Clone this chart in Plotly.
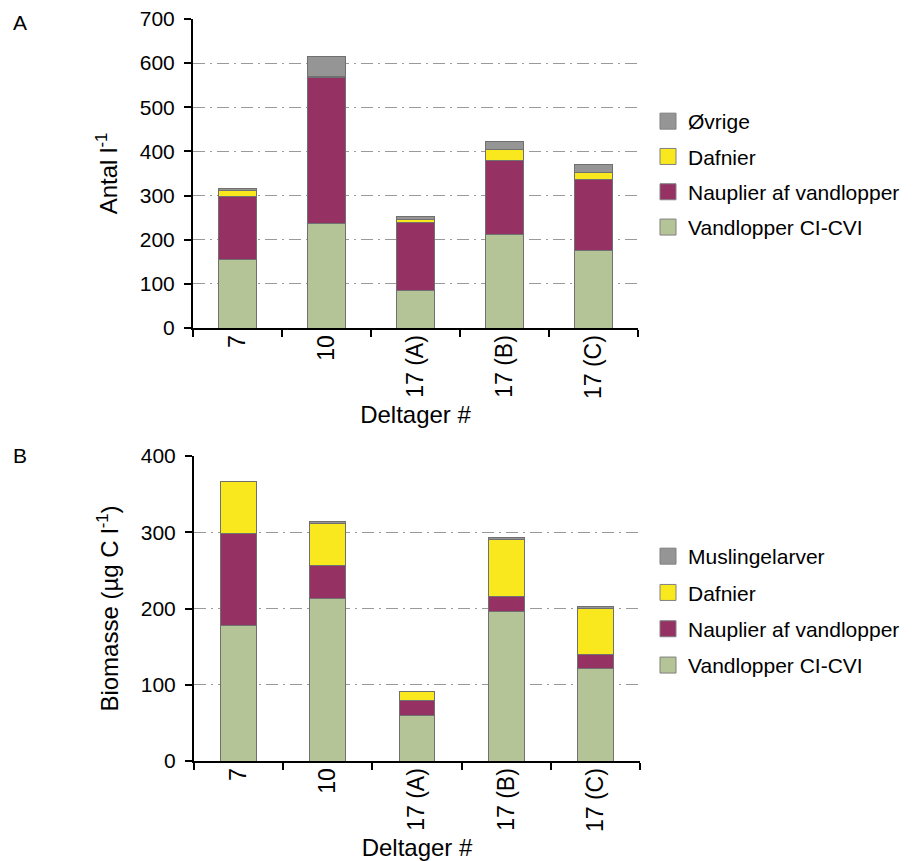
import plotly.graph_objects as go

categories = ["7", "10", "17 (A)", "17 (B)", "17 (C)"]

# Panel A: Antal l-1
a_vandlopper = [155, 236, 84, 211, 176]
a_nauplier = [144, 331, 156, 169, 161]
a_dafnier = [13, 3, 6, 24, 15]
a_ovrige = [4, 46, 7, 18, 19]

# Panel B: Biomasse (µg C l-1)
b_vandlopper = [178, 213, 60, 196, 121]
b_nauplier = [121, 44, 19, 20, 19]
b_dafnier = [67, 55, 12, 75, 60]
b_muslinge = [0, 2, 0, 1.5, 2.5]

names_a = ["Vandlopper CI-CVI", "Nauplier af vandlopper", "Dafnier", "Øvrige"]
names_b = ["Vandlopper CI-CVI", "Nauplier af vandlopper", "Dafnier", "Muslingelarver"]
colors = ["#b4c497", "#963163", "#f9e81e", "#959595"]

FONT = "Liberation Sans, Arial, Helvetica, sans-serif"

fig = go.Figure()


def add_panel(names, series, xa, ya, leg, prefix, width):
    for i, (nm, vals) in enumerate(zip(names, series)):
        grp = "%s%d" % (prefix, i)
        fig.add_trace(go.Bar(
            x=categories, y=vals, name=nm, xaxis=xa, yaxis=ya,
            marker=dict(color=colors[i], line=dict(color="#707070", width=1)),
            width=width, legend=leg, legendgroup=grp, showlegend=False,
        ))
        # legend entry with a larger square swatch
        fig.add_trace(go.Scatter(
            x=[None], y=[None], name=nm, xaxis=xa, yaxis=ya, mode="markers",
            marker=dict(symbol="square", size=16, color=colors[i],
                        line=dict(color="#808080", width=1)),
            legend=leg, legendgroup=grp, legendrank=10 - i, hoverinfo="skip",
        ))


add_panel(names_a, [a_vandlopper, a_nauplier, a_dafnier, a_ovrige], "x", "y", "legend", "a", 0.43)
add_panel(names_b, [b_vandlopper, b_nauplier, b_dafnier, b_muslinge], "x2", "y2", "legend2", "b", 0.40)

grid = dict(showgrid=True, gridcolor="#9a9a9a", gridwidth=1, griddash="12px,5px,2px,5px")
yax_common = dict(
    showline=True, linecolor="black", linewidth=2, ticks="outside", ticklen=7,
    tickwidth=1.5, tickcolor="black", zeroline=False, automargin=False,
    ticklabelstandoff=5,
    tickfont=dict(family=FONT, size=21, color="black"), **grid,
)
xax_common = dict(
    type="category", showline=True, linecolor="black", linewidth=2,
    ticks="outside", ticklen=7, tickwidth=1.5, tickcolor="black", automargin=False,
    tickson="boundaries", tickangle=-90, showgrid=False, ticklabelstandoff=-4,
    tickfont=dict(family=FONT, size=23, color="black"),
)

TF = dict(family=FONT, size=24, color="black")

fig.update_layout(
    width=913, height=861,
    margin=dict(l=0, r=0, t=0, b=0, autoexpand=False),
    paper_bgcolor="white", plot_bgcolor="white",
    barmode="stack",
    font=dict(family=FONT, color="black"),
    xaxis=dict(domain=[193/913, 638/913], anchor="y",
               title=dict(text="Deltager #", font=TF, standoff=8),
               **xax_common),
    yaxis=dict(domain=[1-328/861, 1-19/861], anchor="x", range=[0, 700], dtick=100,
               title=dict(text="Antal l<sup>-1</sup>", font=TF, standoff=15),
               **yax_common),
    xaxis2=dict(domain=[194/913, 640/913], anchor="y2",
                title=dict(text="Deltager #", font=TF, standoff=8),
                **xax_common),
    yaxis2=dict(domain=[1-761/861, 1-456/861], anchor="x2", range=[0, 400], dtick=100,
                title=dict(text="Biomasse (µg C l<sup>-1</sup>)", font=TF, standoff=15),
                **yax_common),
    legend=dict(x=648/913, y=1-101/861, font=dict(family=FONT, size=21, color="black"),
                traceorder="grouped", tracegroupgap=5,
                xanchor="left", yanchor="top", bgcolor="rgba(0,0,0,0)"),
    legend2=dict(x=648/913, y=1-536/861, font=dict(family=FONT, size=21, color="black"),
                 traceorder="grouped", tracegroupgap=6,
                 xanchor="left", yanchor="top", bgcolor="rgba(0,0,0,0)"),
    annotations=[
        dict(text="A", x=0.012, y=1-22/861, xref="paper", yref="paper", showarrow=False,
             xanchor="left", yanchor="middle", font=dict(family=FONT, size=21, color="black")),
        dict(text="B", x=0.012, y=1-455/861, xref="paper", yref="paper", showarrow=False,
             xanchor="left", yanchor="middle", font=dict(family=FONT, size=21, color="black")),
    ],
)

fig.write_html("out.html")
